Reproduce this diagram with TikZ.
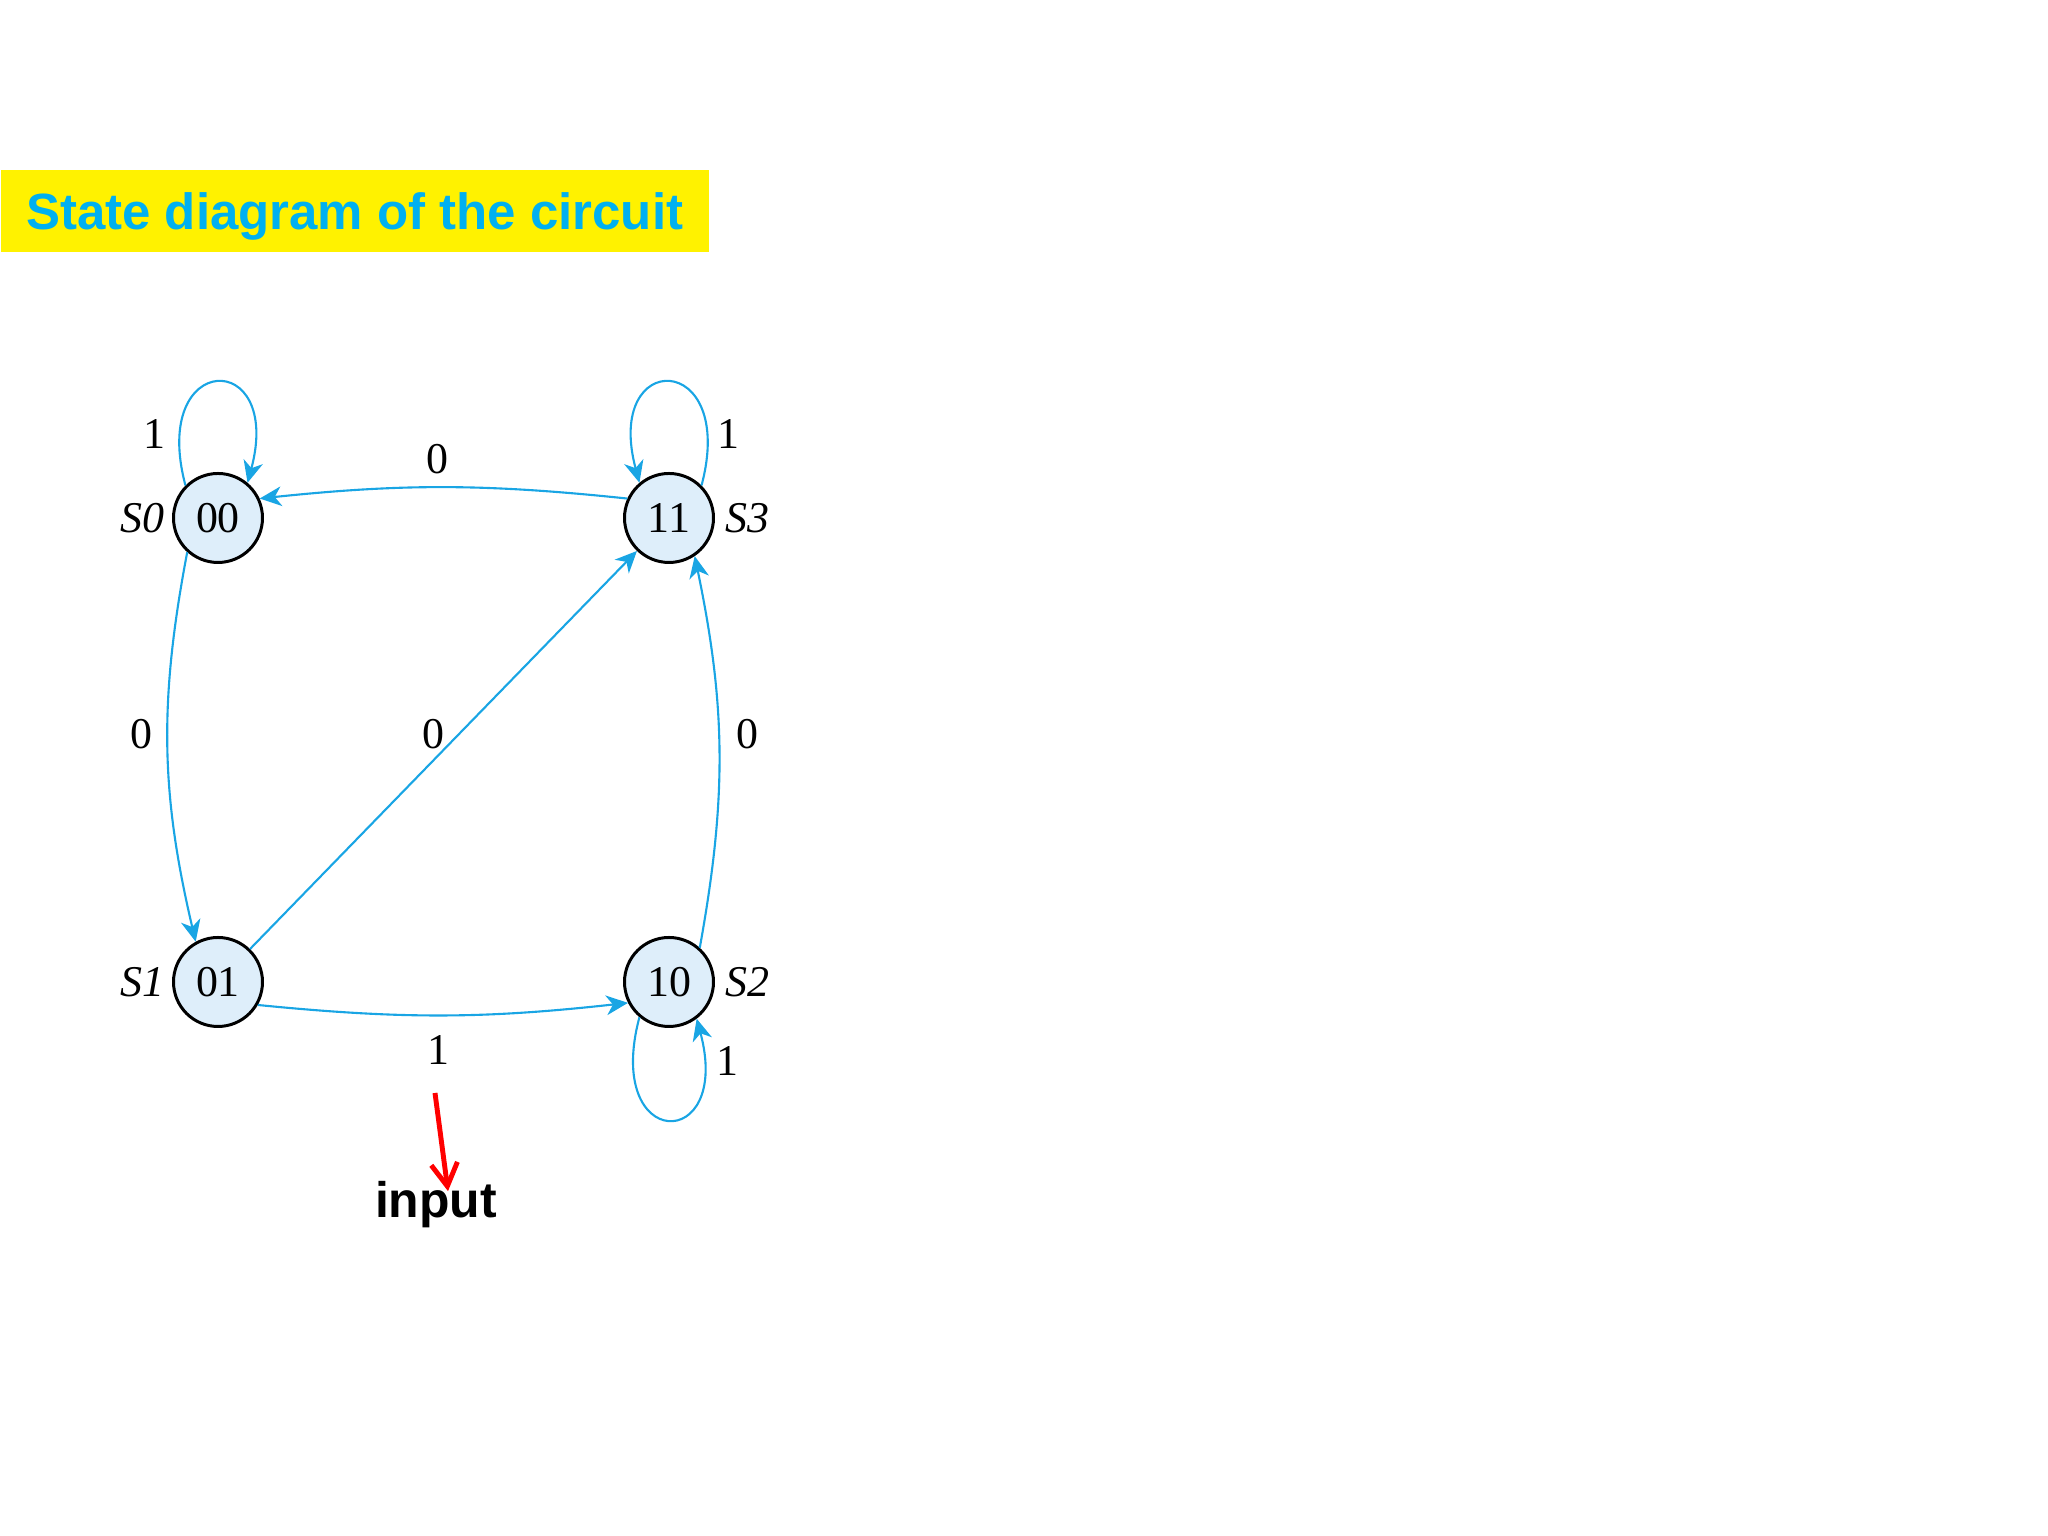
\documentclass[tikz,border=0pt]{standalone}
\usepackage{fontspec}
\setmainfont{Liberation Serif}
\setsansfont{Liberation Sans}
\usetikzlibrary{arrows.meta,positioning}

\definecolor{edgeblue}{RGB}{25,165,228}
\definecolor{statefill}{RGB}{222,238,250}
\definecolor{titleblue}{RGB}{0,176,240}

\begin{document}
\begin{tikzpicture}[
    state/.style={circle, draw=black, line width=0.85pt, fill=statefill,
      minimum size=0.89cm, inner sep=0pt, font=\fontsize{12.5}{15}\selectfont},
    trans/.style={edgeblue, line width=0.6pt,
      -{Stealth[length=6.2pt,width=5.6pt,inset=1.9pt]}},
    lbl/.style={inner sep=1pt, text=black, font=\fontsize{12.5}{15}\selectfont},
  ]
  \useasboundingbox (0,0) rectangle (20.48,15.36);

  % Title bar
  \node[anchor=west, fill=yellow, minimum width=7.08cm, minimum height=0.82cm,
    text height=10.4pt, text depth=0pt,
    text=titleblue, font=\sffamily\bfseries\fontsize{14.5}{17}\selectfont]
    (title) at (0,13.25) {State diagram of the circuit};

  % States
  \node[state] (s0) at (2.18,10.18) {00};
  \node[state] (s3) at (6.69,10.18) {11};
  \node[state] (s1) at (2.18,5.54) {01};
  \node[state] (s2) at (6.69,5.54) {10};

  % State names
  \node[lbl, left=0.03cm of s0] (n0) {\textit{S0}};
  \node[lbl, right=0.06cm of s3] (n3) {\textit{S3}};
  \node[lbl, left=0.03cm of s1] (n1) {\textit{S1}};
  \node[lbl, right=0.06cm of s2] (n2) {\textit{S2}};

  % Self loops
  \draw[trans] (s0.135) .. controls +(105:1.4) and +(75:1.4) .. node[lbl, pos=0.15, left=0.1cm] (l00) {1} (s0.50);
  \draw[trans] (s3.45) .. controls +(75:1.4) and +(105:1.4) .. node[lbl, pos=0.15, right=0.05cm] (l33) {1} (s3.130);
  \draw[trans] (s2.230) .. controls +(255:1.4) and +(285:1.4) .. node[lbl, pos=0.88, right=0.09cm] (l22) {1} (s2.307);

  % Transitions between states
  \draw[trans] (s3.155) to[bend right=6] node[lbl, above=0.085cm, xshift=-0.06cm] (l30) {0} (s0.25);
  \draw[trans] (s0.228) to[bend right=12] node[lbl, left=0.11cm, yshift=0.13cm] (l01) {0} (s1.119);
  \draw[trans] (s1.330) to[bend right=6] node[lbl, below=0.16cm, xshift=-0.05cm] (l12) {1} (s2.207);
  \draw[trans] (s2.48) to[bend right=11] node[lbl, right=0.125cm, yshift=0.18cm] (l23) {0} (s3.304);
  \draw[trans] (s1) -- node[lbl, pos=0.54, left=0.1cm] (l13) {0} (s3);

  % Input pointer
  \node[anchor=base, inner sep=0pt, font=\sffamily\bfseries\fontsize{14.2}{17}\selectfont]
    (input) at (4.36,3.18) {input};
  \coordinate (redtail) at (4.35,4.43);
  \draw[red, line width=1.4pt, -{Straight Barb[length=6.5pt,width=7.5pt]}]
    (redtail) -- ([xshift=0.12cm,yshift=-0.1cm]input.north);

\end{tikzpicture}
\end{document}
